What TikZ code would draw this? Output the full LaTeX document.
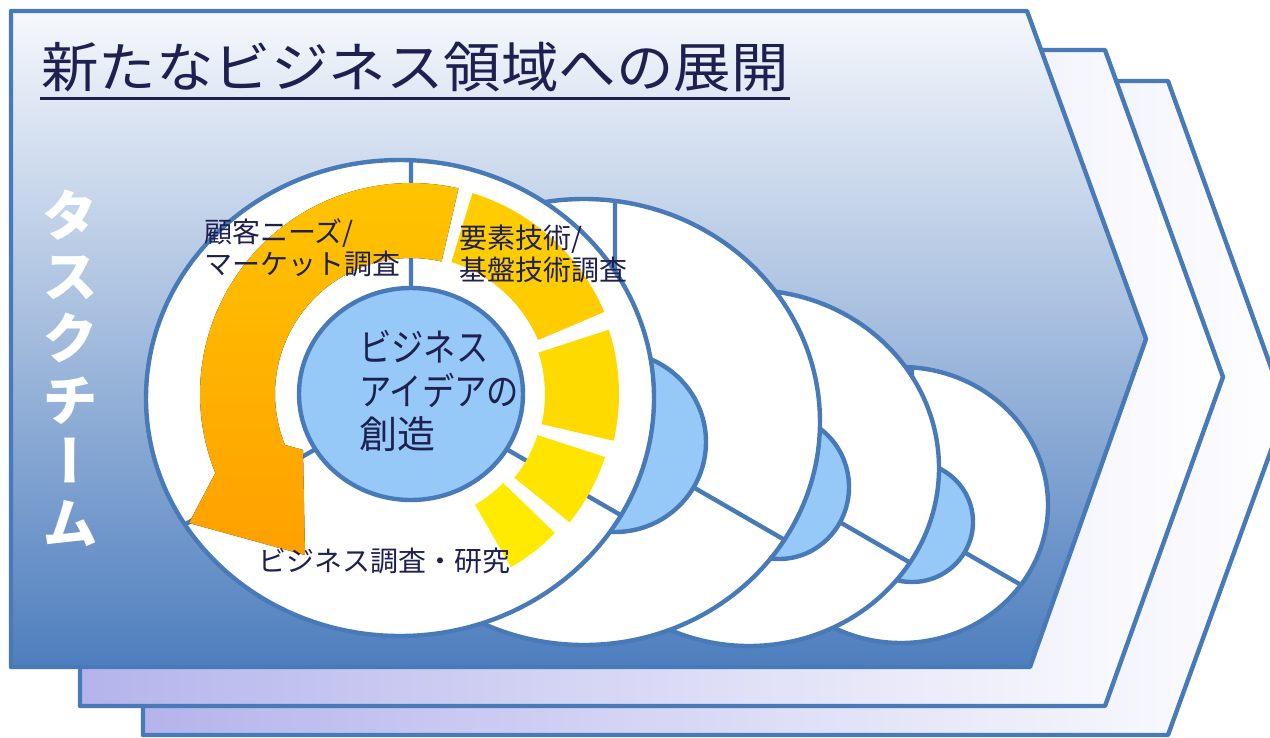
\documentclass[tikz,border=0pt]{standalone}
\usepackage{fontspec}
\newfontfamily\jp{Noto Sans CJK JP}
\newfontfamily\jpv[RawFeature=+vert]{Noto Sans CJK JP}
\definecolor{lineblue}{RGB}{72,122,184}
\definecolor{chtop}{RGB}{246,248,252}
\definecolor{chmid}{RGB}{168,190,222}
\definecolor{chbot}{RGB}{78,126,190}
\definecolor{lav}{RGB}{180,180,236}
\definecolor{innerblue}{RGB}{150,200,248}
\definecolor{txt}{RGB}{30,32,80}
\definecolor{orA}{RGB}{255,196,0}
\definecolor{orB}{RGB}{255,160,0}
\definecolor{yA}{RGB}{255,204,0}
\definecolor{yB}{RGB}{255,218,0}
\definecolor{yC}{RGB}{255,228,0}
\definecolor{yD}{RGB}{255,234,0}
\newcommand\bandpath[6]{plot[domain=#5:#6,samples=40] ({#1+#4*cos(\x)},{#2+#4*sin(\x)}) -- plot[domain=#6:#5,samples=40] ({#1+#3*cos(\x)},{#2+#3*sin(\x)}) -- cycle}
\begin{document}
\begin{tikzpicture}[x=1pt,y=-1pt,line join=round,
  bline/.style={draw=lineblue,line width=4.4pt},
  lbl/.style={font=\jp\fontsize{28}{32}\selectfont,text=txt,align=left,inner sep=0pt}]
\useasboundingbox (0,0) rectangle (1270,737);
\clip (0,0) rectangle (1270,737);
% chevrons
\path[bline,left color=lav,middle color=lav!35!white,right color=white]
  (143,81) -- (1168,81) -- (1286,409) -- (1168,735) -- (143,735) -- cycle;
\path[bline,left color=lav,middle color=lav!35!white,right color=white]
  (80,50) -- (1105,50) -- (1223,377) -- (1105,706) -- (80,706) -- cycle;
\path[bline,top color=chtop,middle color=chmid,bottom color=chbot]
  (11,11) -- (1027,11) -- (1146,339) -- (1030,667) -- (11,667) -- cycle;
% title
\node[font=\jp\fontsize{54}{60}\selectfont,text=txt,anchor=base west,inner sep=0pt] (title) at (41,87) {\scalebox{1.065}[1]{新たなビジネス領域への展開}};
\draw[txt,line width=3pt] (40,98) -- (790,98);
% vertical label
\node[font=\jpv\bfseries\fontsize{56}{61.6}\selectfont,text=white,align=center,inner sep=0pt] (team) at (70,368) {タ\\ス\\ク\\チ\\ー\\ム};
% ring 4
\fill[white] (901,505) ellipse [x radius=147,y radius=138];
\begin{scope}
\clip (901,505) ellipse [x radius=147,y radius=138];
\draw[bline] (912,522) -- ++(-90:400) (912,522) -- ++(30:400) (912,522) -- ++(150:400);
\end{scope}
\draw[bline] (901,505) ellipse [x radius=147,y radius=138];
\draw[bline,fill=innerblue] (912,522) ellipse [x radius=61,y radius=60];
% ring 3
\fill[white] (749,468) ellipse [x radius=190,y radius=178];
\begin{scope}
\clip (749,468) ellipse [x radius=190,y radius=178];
\draw[bline] (779,487) -- ++(-90:400) (779,487) -- ++(30:400) (779,487) -- ++(150:400);
\end{scope}
\draw[bline] (749,468) ellipse [x radius=190,y radius=178];
\draw[bline,fill=innerblue] (779,487) ellipse [x radius=70,y radius=72];
% ring 2
\fill[white] (584,422) ellipse [x radius=236,y radius=223];
\begin{scope}
\clip (584,422) ellipse [x radius=236,y radius=223];
\draw[bline] (615,442) -- ++(-90:400) (615,442) -- ++(30:400) (615,442) -- ++(150:400);
\end{scope}
\draw[bline] (584,422) ellipse [x radius=236,y radius=223];
\draw[bline,fill=innerblue] (615,442) ellipse [x radius=91,y radius=90];
% main ring
\fill[white] (400,398) ellipse [x radius=254,y radius=238];
\begin{scope}
\clip (400,398) ellipse [x radius=254,y radius=238];
\draw[bline] (411,394) -- ++(-90:400) (411,394) -- ++(30:400) (411,394) -- ++(150:400);
\end{scope}
\draw[bline] (400,398) ellipse [x radius=254,y radius=238];
% yellow segments
\fill[yA] \bandpath{411}{394}{138}{210}{287}{337};
\fill[yB] \bandpath{411}{394}{134}{208}{342}{373};
\fill[yC] \bandpath{411}{394}{133}{204}{378}{399};
\fill[yD] \bandpath{411}{394}{128}{200}{404}{420};
% orange circular arrow
\fill[top color=orA,bottom color=orB]
  plot[domain=283:158,samples=60] ({411+211*cos(\x)},{394+211*sin(\x)})
  -- (189,523) -- (305,555) -- (303,450)
  -- plot[domain=158:283,samples=60] ({411+136*cos(\x)},{394+136*sin(\x)}) -- cycle;
% centre
\draw[bline,fill=innerblue] (411,394) ellipse [x radius=112,y radius=106];
\node[font=\jp\fontsize{38}{43.5}\selectfont,text=txt,align=left,inner sep=0pt,anchor=north west] (idea) at (359,330) {\scalebox{0.85}[1]{ビジネス}\\\scalebox{0.85}[1]{アイデアの}\\創造};
\node[lbl,anchor=north west] (cust) at (204,219) {顧客ニーズ/\\マーケット調査};
\node[lbl,anchor=north west] (tech) at (459,225) {要素技術/\\基盤技術調査};
\node[lbl,anchor=west] (biz) at (258,561) {ビジネス調査・研究};
\end{tikzpicture}
\end{document}
